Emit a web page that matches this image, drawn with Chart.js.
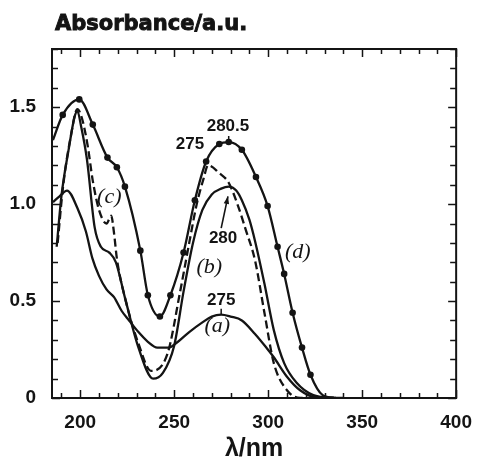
<!DOCTYPE html>
<html>
<head>
<meta charset="utf-8">
<script src="https://cdn.jsdelivr.net/npm/chart.js@4.4.0/dist/chart.umd.min.js"></script>
<style>
  html, body { margin: 0; padding: 0; background: #fff; }
</style>
</head>
<body>
<canvas id="spectra" width="485" height="464"></canvas>
<script>
// spectra: wavelength (nm) / absorbance (a.u.)
const waveA = [185.5, 189, 193, 198.5, 203, 206.5, 210, 214, 218, 222, 226, 231, 236, 241, 247, 252, 258, 265, 270, 275, 280, 286, 293, 299, 303, 310, 317, 325, 340];
const absA = [1.01, 1.04, 1.07, 0.98, 0.86, 0.72, 0.63, 0.56, 0.52, 0.45, 0.40, 0.34, 0.29, 0.26, 0.26, 0.29, 0.34, 0.39, 0.42, 0.43, 0.42, 0.40, 0.33, 0.26, 0.21, 0.11, 0.04, 0.005, 0];

const waveB = [187.5, 190, 194, 197, 198.5, 200.5, 203.6, 207.7, 211, 215.5, 219, 224, 231, 238.8, 244, 250, 255, 260, 265, 270, 275, 279, 283, 286, 290, 293, 298, 303, 308.5, 315, 324, 335];
const absB = [0.78, 1.04, 1.29, 1.45, 1.48, 1.40, 1.23, 0.88, 0.78, 0.75, 0.70, 0.51, 0.26, 0.10, 0.13, 0.27, 0.55, 0.80, 0.97, 1.05, 1.08, 1.09, 1.07, 1.02, 0.92, 0.81, 0.59, 0.35, 0.18, 0.08, 0.015, 0];

const waveC = [188, 191, 195, 198.5, 201, 204, 206.7, 210, 214, 216.5, 218, 219.5, 224, 231, 237.7, 246.5, 253, 258, 262, 265.6, 268, 274, 279, 284, 288, 293, 298, 303, 310, 317, 335];
const absC = [0.80, 1.10, 1.35, 1.49, 1.44, 1.30, 1.12, 0.97, 0.90, 0.94, 0.85, 0.72, 0.51, 0.28, 0.14, 0.23, 0.54, 0.80, 1.00, 1.13, 1.20, 1.16, 1.11, 0.99, 0.87, 0.71, 0.44, 0.18, 0.04, 0, 0];

const waveD = [185.5, 190.7, 199.5, 206.7, 214.5, 219.5, 223.8, 232, 236, 242.4, 248, 255, 261, 267, 274, 279, 286, 293.5, 299.7, 305, 308.5, 313, 318, 322.5, 329, 336];
const absD = [1.33, 1.46, 1.54, 1.41, 1.24, 1.19, 1.09, 0.76, 0.53, 0.42, 0.53, 0.75, 1.02, 1.22, 1.31, 1.32, 1.28, 1.14, 0.99, 0.78, 0.64, 0.44, 0.26, 0.12, 0.015, 0];

// axis ticks
const xTicks = [190, 200, 210, 220, 230, 240, 250, 260, 270, 280, 290, 300, 310, 320, 330, 340, 350, 360, 370, 380, 390, 400];
const xLabels = [200, 250, 300, 350, 400];
const yTicks = [0, 0.1, 0.2, 0.3, 0.4, 0.5, 0.6, 0.7, 0.8, 0.9, 1.0, 1.1, 1.2, 1.3, 1.4, 1.5, 1.6, 1.7, 1.8];
const yLabels = [0, 0.5, 1.0, 1.5];

// peak labels and curve names, placed in data units
const peakNotes = [['280.5', 278.6, 1.40], ['275', 258.4, 1.31], ['280', 276, 0.825], ['275', 275, 0.505]];
const peakMarks = [[279, 1.32], [275, 0.43]];
const curveNotes = [['(a)', 272.9, 0.37], ['(b)', 268.7, 0.675], ['(c)', 215.5, 1.035], ['(d)', 315.8, 0.753]];
const arrow280 = [[275, 0.876], [278.6, 1.04]];

const ink = '#141414';
const sans = '"Liberation Sans", Arial, Helvetica, sans-serif';

const pts = (xs, ys) => xs.map((x, i) => ({ x, y: ys[i] }));

const frame = {
  id: 'frame',
  afterDatasetsDraw(chart) {
    const { ctx, chartArea: a, scales: { x, y } } = chart;
    ctx.save();
    ctx.strokeStyle = ink;
    ctx.lineWidth = 2;
    ctx.strokeRect(a.left, a.top, a.right - a.left, a.bottom - a.top);
    ctx.lineWidth = 1.5;
    ctx.beginPath();
    xTicks.forEach((v) => {
      const px = Math.round(x.getPixelForValue(v)) + 0.5;
      const len = xLabels.includes(v) ? 8 : 5;
      ctx.moveTo(px, a.bottom); ctx.lineTo(px, a.bottom - len);
      ctx.moveTo(px, a.top); ctx.lineTo(px, a.top + len);
    });
    yTicks.forEach((v) => {
      const py = Math.round(y.getPixelForValue(v)) + 0.5;
      const len = yLabels.includes(v) ? 8 : 6;
      ctx.moveTo(a.left, py); ctx.lineTo(a.left + len, py);
      ctx.moveTo(a.right, py); ctx.lineTo(a.right - len, py);
    });
    // short marks above labelled peaks
    peakMarks.forEach(([vx, vy]) => {
      const px = x.getPixelForValue(vx);
      const py = y.getPixelForValue(vy);
      ctx.moveTo(px, py); ctx.lineTo(px, py - 6);
    });
    ctx.stroke();

    // annotations
    ctx.fillStyle = ink;
    ctx.textAlign = 'center';
    ctx.textBaseline = 'middle';
    ctx.font = 'bold 17px ' + sans;
    peakNotes.forEach(([t, vx, vy]) => ctx.fillText(t, x.getPixelForValue(vx), y.getPixelForValue(vy)));
    ctx.font = 'italic 22px "Liberation Serif", "Times New Roman", serif';
    curveNotes.forEach(([t, vx, vy]) => ctx.fillText(t, x.getPixelForValue(vx), y.getPixelForValue(vy)));

    // arrow from "280" up to the peak of (b)
    const [p0, p1] = arrow280.map(([vx, vy]) => [x.getPixelForValue(vx), y.getPixelForValue(vy)]);
    ctx.lineWidth = 1.6;
    ctx.beginPath();
    ctx.moveTo(p0[0], p0[1]);
    ctx.lineTo(p1[0], p1[1]);
    ctx.stroke();
    const ang = Math.atan2(p1[1] - p0[1], p1[0] - p0[0]);
    ctx.beginPath();
    ctx.moveTo(p1[0], p1[1]);
    ctx.lineTo(p1[0] - 8 * Math.cos(ang - 0.35), p1[1] - 8 * Math.sin(ang - 0.35));
    ctx.lineTo(p1[0] - 8 * Math.cos(ang + 0.35), p1[1] - 8 * Math.sin(ang + 0.35));
    ctx.closePath();
    ctx.fill();

    // y axis heading, heavy like the scanned original
    ctx.textAlign = 'left';
    ctx.textBaseline = 'alphabetic';
    ctx.font = 'bold 21px "DejaVu Sans", sans-serif';
    ctx.lineWidth = 0.9;
    ctx.fillText('Absorbance/a.u.', 55, 30);
    ctx.strokeText('Absorbance/a.u.', 55, 30);
    ctx.restore();
  }
};

const lineStyle = {
  borderColor: ink,
  backgroundColor: ink,
  borderWidth: 2.3,
  fill: false,
  cubicInterpolationMode: 'monotone'
};

new Chart(document.getElementById('spectra').getContext('2d'), {
  type: 'line',
  data: {
    datasets: [
      { ...lineStyle, label: '(a)', data: pts(waveA, absA), pointRadius: 0 },
      { ...lineStyle, label: '(b)', data: pts(waveB, absB), pointRadius: 0 },
      { ...lineStyle, label: '(c)', data: pts(waveC, absC), pointRadius: 0, borderDash: [8, 4] },
      { ...lineStyle, label: '(d)', data: pts(waveD, absD),
        pointRadius: (c) => (c.raw && c.raw.y > 0.05 && c.raw.x > 186 ? 3.3 : 0),
        pointBorderWidth: 0, pointBackgroundColor: ink }
    ]
  },
  options: {
    responsive: false,
    animation: false,
    devicePixelRatio: 1,
    layout: { padding: { left: 0, right: 18, top: 49, bottom: 0 } },
    plugins: { legend: { display: false }, tooltip: { enabled: false } },
    scales: {
      x: {
        type: 'linear',
        min: 185,
        max: 400,
        afterBuildTicks: (s) => { s.ticks = xTicks.map((v) => ({ value: v })); },
        afterFit: (s) => { s.height = 66; },
        grid: { display: false, drawTicks: false },
        border: { display: false },
        ticks: {
          autoSkip: false,
          maxRotation: 0,
          padding: 13,
          color: ink,
          font: { family: sans, weight: 'bold', size: 19 },
          callback: (v) => (xLabels.includes(v) ? String(v) : '')
        },
        title: {
          display: true,
          text: 'λ/nm',
          color: ink,
          padding: { top: 0, bottom: 0 },
          font: { family: sans, weight: 'bold', size: 25 }
        }
      },
      y: {
        min: 0,
        max: 1.8,
        afterBuildTicks: (s) => { s.ticks = yTicks.map((v) => ({ value: v })); },
        afterFit: (s) => { s.width = 52; },
        grid: { display: false, drawTicks: false },
        border: { display: false },
        ticks: {
          autoSkip: false,
          padding: 16,
          color: ink,
          font: { family: sans, weight: 'bold', size: 19 },
          callback: (v) => (yLabels.includes(v) ? (v === 0 ? '0' : v.toFixed(1)) : '')
        }
      }
    }
  },
  plugins: [frame]
});
</script>
</body>
</html>
